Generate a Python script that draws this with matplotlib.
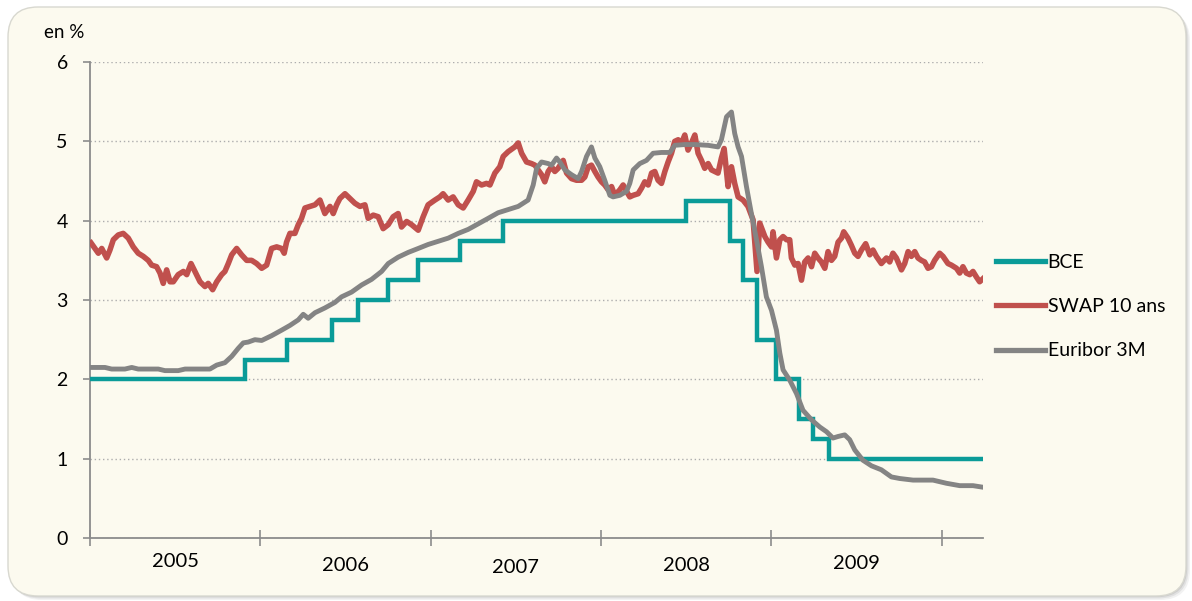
"""
Taux BCE, SWAP 10 ans et Euribor 3M (2005-2010)
"""
import matplotlib
matplotlib.use('Agg')
import matplotlib.pyplot as plt
import matplotlib.patches as mpatches

plt.rcParams['font.family'] = ['Lato', 'DejaVu Sans']

# Taux directeur BCE (paliers, date en annee decimale)
bce_t = [2005.0, 2005.91, 2006.154, 2006.419, 2006.575, 2006.751, 2006.927,
         2007.172, 2007.426, 2008.498, 2008.756, 2008.834, 2008.916, 2009.030,
         2009.163, 2009.245, 2009.339, 2010.243]
bce_v = [2.00, 2.25, 2.50, 2.75, 3.00, 3.25, 3.50,
         3.75, 4.00, 4.25, 3.75, 3.25, 2.50, 2.00,
         1.50, 1.25, 1.00, 1.00]

# SWAP 10 ans
swap_t = [2005.006, 2005.029, 2005.049, 2005.069, 2005.098, 2005.117, 2005.137, 2005.166,
          2005.195, 2005.225, 2005.254, 2005.283, 2005.313, 2005.342, 2005.362, 2005.391,
          2005.411, 2005.430, 2005.450, 2005.470, 2005.489, 2005.518, 2005.548, 2005.568,
          2005.593, 2005.616, 2005.646, 2005.675, 2005.694, 2005.720, 2005.744, 2005.773,
          2005.792, 2005.812, 2005.832, 2005.861, 2005.890, 2005.920, 2005.949, 2005.978,
          2006.008, 2006.037, 2006.066, 2006.096, 2006.125, 2006.140, 2006.154, 2006.174,
          2006.203, 2006.223, 2006.242, 2006.262, 2006.291, 2006.321, 2006.350, 2006.379,
          2006.409, 2006.428, 2006.448, 2006.467, 2006.497, 2006.526, 2006.555, 2006.585,
          2006.614, 2006.633, 2006.663, 2006.692, 2006.721, 2006.751, 2006.780, 2006.809,
          2006.829, 2006.859, 2006.888, 2006.927, 2006.956, 2006.985, 2007.025, 2007.054,
          2007.073, 2007.103, 2007.132, 2007.162, 2007.191, 2007.220, 2007.250, 2007.269,
          2007.299, 2007.328, 2007.348, 2007.377, 2007.406, 2007.426, 2007.455, 2007.494,
          2007.514, 2007.534, 2007.563, 2007.592, 2007.612, 2007.631, 2007.651, 2007.670,
          2007.690, 2007.710, 2007.729, 2007.748, 2007.778, 2007.798, 2007.827, 2007.856,
          2007.886, 2007.905, 2007.925, 2007.944, 2007.964, 2007.983, 2008.003, 2008.022,
          2008.042, 2008.062, 2008.081, 2008.111, 2008.130, 2008.150, 2008.169, 2008.189,
          2008.218, 2008.238, 2008.257, 2008.277, 2008.297, 2008.316, 2008.335, 2008.355,
          2008.375, 2008.394, 2008.414, 2008.433, 2008.453, 2008.473, 2008.492, 2008.511,
          2008.531, 2008.551, 2008.570, 2008.590, 2008.609, 2008.629, 2008.649, 2008.668,
          2008.687, 2008.707, 2008.723, 2008.746, 2008.766, 2008.785, 2008.805, 2008.834,
          2008.863, 2008.893, 2008.916, 2008.932, 2008.962, 2008.981, 2009.001, 2009.010,
          2009.030, 2009.050, 2009.069, 2009.089, 2009.108, 2009.118, 2009.138, 2009.157,
          2009.177, 2009.196, 2009.216, 2009.236, 2009.255, 2009.274, 2009.294, 2009.314,
          2009.333, 2009.353, 2009.372, 2009.392, 2009.412, 2009.425, 2009.450, 2009.470,
          2009.490, 2009.509, 2009.529, 2009.554, 2009.578, 2009.597, 2009.617, 2009.646,
          2009.676, 2009.695, 2009.714, 2009.734, 2009.764, 2009.783, 2009.803, 2009.822,
          2009.842, 2009.861, 2009.881, 2009.900, 2009.920, 2009.940, 2009.959, 2009.988,
          2010.008, 2010.037, 2010.057, 2010.087, 2010.106, 2010.125, 2010.145, 2010.165,
          2010.184, 2010.204, 2010.223, 2010.243]
swap_v = [3.72, 3.65, 3.59, 3.65, 3.53, 3.63, 3.76, 3.82,
          3.84, 3.78, 3.67, 3.59, 3.55, 3.50, 3.44, 3.42,
          3.34, 3.21, 3.38, 3.23, 3.23, 3.32, 3.36, 3.32,
          3.46, 3.36, 3.23, 3.17, 3.21, 3.13, 3.23, 3.32,
          3.36, 3.46, 3.57, 3.65, 3.57, 3.50, 3.50, 3.46,
          3.40, 3.44, 3.65, 3.67, 3.65, 3.59, 3.73, 3.84,
          3.84, 3.95, 4.03, 4.16, 4.18, 4.20, 4.26, 4.09,
          4.18, 4.09, 4.20, 4.28, 4.34, 4.28, 4.22, 4.18,
          4.20, 4.03, 4.07, 4.05, 3.90, 3.95, 4.05, 4.09,
          3.92, 3.99, 3.95, 3.88, 4.05, 4.20, 4.26, 4.30,
          4.34, 4.26, 4.30, 4.20, 4.16, 4.26, 4.37, 4.49,
          4.45, 4.47, 4.45, 4.60, 4.68, 4.81, 4.87, 4.93,
          4.98, 4.85, 4.74, 4.72, 4.70, 4.64, 4.58, 4.49,
          4.62, 4.68, 4.62, 4.66, 4.76, 4.60, 4.53, 4.51,
          4.51, 4.55, 4.68, 4.70, 4.62, 4.55, 4.49, 4.45,
          4.39, 4.43, 4.32, 4.39, 4.45, 4.37, 4.30, 4.32,
          4.34, 4.41, 4.49, 4.45, 4.60, 4.62, 4.51, 4.47,
          4.62, 4.74, 4.85, 5.00, 5.02, 4.98, 5.08, 4.89,
          4.98, 5.08, 4.85, 4.76, 4.66, 4.72, 4.64, 4.62,
          4.60, 4.79, 4.91, 4.43, 4.68, 4.47, 4.30, 4.26,
          4.18, 4.01, 3.36, 3.97, 3.80, 3.73, 3.67, 3.86,
          3.53, 3.76, 3.80, 3.76, 3.76, 3.53, 3.44, 3.46,
          3.25, 3.48, 3.53, 3.42, 3.59, 3.53, 3.48, 3.40,
          3.61, 3.50, 3.55, 3.73, 3.78, 3.86, 3.78, 3.69,
          3.59, 3.55, 3.63, 3.71, 3.57, 3.63, 3.55, 3.46,
          3.53, 3.48, 3.59, 3.53, 3.38, 3.46, 3.61, 3.55,
          3.61, 3.53, 3.50, 3.48, 3.40, 3.42, 3.50, 3.59,
          3.55, 3.46, 3.44, 3.40, 3.34, 3.42, 3.34, 3.32,
          3.36, 3.29, 3.23, 3.27]

# Euribor 3 mois
eur_t = [2005.006, 2005.088, 2005.127, 2005.205, 2005.245, 2005.283, 2005.401, 2005.440,
         2005.518, 2005.558, 2005.704, 2005.744, 2005.792, 2005.832, 2005.870, 2005.900,
         2005.929, 2005.968, 2006.008, 2006.066, 2006.125, 2006.174, 2006.223, 2006.252,
         2006.281, 2006.321, 2006.379, 2006.438, 2006.477, 2006.536, 2006.595, 2006.653,
         2006.712, 2006.751, 2006.809, 2006.868, 2006.927, 2006.985, 2007.044, 2007.103,
         2007.162, 2007.220, 2007.279, 2007.338, 2007.396, 2007.455, 2007.514, 2007.572,
         2007.602, 2007.622, 2007.651, 2007.690, 2007.710, 2007.739, 2007.758, 2007.788,
         2007.827, 2007.866, 2007.886, 2007.915, 2007.944, 2007.964, 2007.993, 2008.022,
         2008.052, 2008.071, 2008.111, 2008.150, 2008.169, 2008.189, 2008.228, 2008.267,
         2008.306, 2008.355, 2008.404, 2008.433, 2008.492, 2008.551, 2008.629, 2008.687,
         2008.707, 2008.737, 2008.766, 2008.785, 2008.805, 2008.825, 2008.854, 2008.883,
         2008.913, 2008.942, 2008.971, 2009.001, 2009.030, 2009.050, 2009.069, 2009.108,
         2009.148, 2009.186, 2009.236, 2009.284, 2009.324, 2009.362, 2009.392, 2009.431,
         2009.460, 2009.490, 2009.538, 2009.588, 2009.646, 2009.705, 2009.754, 2009.832,
         2009.949, 2010.028, 2010.106, 2010.184, 2010.243]
eur_v = [2.15, 2.15, 2.13, 2.13, 2.15, 2.13, 2.13, 2.11,
         2.11, 2.13, 2.13, 2.18, 2.21, 2.29, 2.39, 2.46,
         2.47, 2.50, 2.49, 2.55, 2.62, 2.68, 2.75, 2.82,
         2.77, 2.84, 2.90, 2.97, 3.04, 3.10, 3.19, 3.26,
         3.36, 3.46, 3.54, 3.60, 3.65, 3.70, 3.74, 3.78,
         3.84, 3.89, 3.96, 4.03, 4.10, 4.14, 4.18, 4.26,
         4.45, 4.66, 4.74, 4.72, 4.70, 4.79, 4.74, 4.64,
         4.58, 4.53, 4.62, 4.81, 4.93, 4.79, 4.68, 4.51,
         4.32, 4.30, 4.32, 4.37, 4.47, 4.64, 4.72, 4.76,
         4.85, 4.86, 4.86, 4.95, 4.96, 4.96, 4.95, 4.93,
         5.02, 5.31, 5.37, 5.10, 4.93, 4.81, 4.43, 4.09,
         3.76, 3.42, 3.04, 2.87, 2.62, 2.33, 2.12, 1.99,
         1.82, 1.61, 1.49, 1.40, 1.34, 1.26, 1.28, 1.30,
         1.24, 1.11, 0.98, 0.91, 0.86, 0.77, 0.75, 0.73,
         0.73, 0.69, 0.66, 0.66, 0.64]

annees = [2005, 2006, 2007, 2008, 2009]
decalages = [-0.050, -0.057, -0.061, -0.057, -0.053]  # position verticale des annees

fond = '#FCFAEF'
fig = plt.figure(figsize=(11.92, 6.01), dpi=100, facecolor='white')

# Cadre arrondi avec ombre (sous les axes)
for off, a in [(0.04, 0.10), (0.025, 0.15), (0.012, 0.2)]:
    fig.patches.append(mpatches.FancyBboxPatch(
        (0.08 + off, 0.05 - off), 11.78, 5.89,
        boxstyle='round,pad=0,rounding_size=0.3', zorder=-10,
        transform=fig.dpi_scale_trans, facecolor='#808080', edgecolor='none', alpha=a))
fig.patches.append(mpatches.FancyBboxPatch(
    (0.08, 0.05), 11.78, 5.89, boxstyle='round,pad=0,rounding_size=0.3', zorder=-9,
    transform=fig.dpi_scale_trans, facecolor=fond, edgecolor='#D8D8D0', linewidth=1.0))

ax = fig.add_axes([0.0755, 0.1048, 0.7492, 0.792])
ax.set_facecolor('none')

ax.plot(bce_t, bce_v, color='#0A9B98', linewidth=3.2, drawstyle='steps-post',
        label='BCE', solid_joinstyle='miter', zorder=3)
ax.plot(swap_t, swap_v, color='#C0504D', linewidth=4.0, label='SWAP 10 ans',
        solid_joinstyle='round', zorder=3)
ax.plot(eur_t, eur_v, color='#848484', linewidth=3.5, label='Euribor 3M',
        solid_joinstyle='round', zorder=4)

ax.set_xlim(2005.0, 2010.243)
ax.set_ylim(0, 6)
ax.set_yticks(range(0, 7))
ax.set_xticks(range(2005, 2011))
ax.set_xticklabels([])
ax.grid(axis='y', linestyle=(0, (1, 2)), color='#ADADAD', linewidth=1.0)
ax.set_axisbelow(True)

for s in ['top', 'right']:
    ax.spines[s].set_visible(False)
for s in ['left', 'bottom']:
    ax.spines[s].set_color('#8C8C8C')
    ax.spines[s].set_linewidth(1.3)
ax.tick_params(axis='y', direction='out', length=5, width=1.2, color='#8C8C8C',
               pad=11, labelsize=14, labelcolor='black')
ax.tick_params(axis='x', direction='inout', length=11, width=1.2, color='#8C8C8C')

for an, dy in zip(annees, decalages):
    ax.text(an + 0.5, dy, str(an), transform=ax.get_xaxis_transform(),
            ha='center', va='center', fontsize=14.5, color='black')

fig.text(44 / 1192, 1 - 32 / 601, 'en %', ha='left', va='center', fontsize=13.5)

leg = fig.legend(loc='upper left', bbox_to_anchor=(996 / 1192, 1 - 254 / 601),
                 frameon=False, fontsize=14, handlelength=2.5, handletextpad=0.15,
                 labelspacing=1.4, borderpad=0, borderaxespad=0)
for ln in leg.get_lines():
    ln.set_linewidth(3.8)

fig.savefig('out.png', dpi=100, facecolor='white')
plt.close('all')
